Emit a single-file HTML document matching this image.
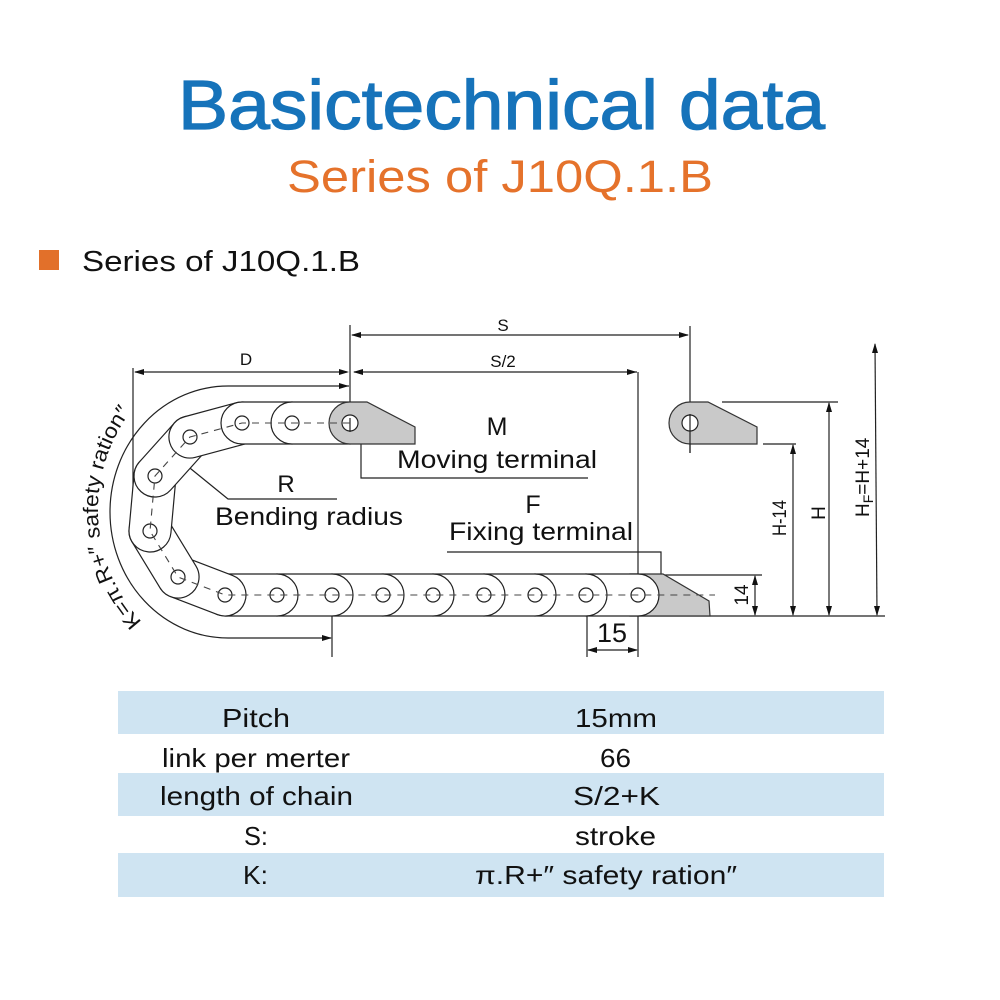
<!DOCTYPE html>
<html>
<head>
<meta charset="utf-8">
<style>
html,body{margin:0;padding:0;background:#fff;}
body{width:1000px;height:1000px;overflow:hidden;}
svg{display:block;}
</style>
</head>
<body>
<svg width="1000" height="1000" viewBox="0 0 1000 1000" xmlns="http://www.w3.org/2000/svg" font-family="'Liberation Sans', Arial, sans-serif">
<rect x="0" y="0" width="1000" height="1000" fill="#fff"/>

<!-- Titles -->
<text x="178" y="129" font-size="70" fill="#1673BA" stroke="#1673BA" stroke-width="1.2" textLength="647" lengthAdjust="spacingAndGlyphs">Basictechnical data</text>
<text x="287" y="192" font-size="45" fill="#E5722B" textLength="426" lengthAdjust="spacingAndGlyphs">Series of J10Q.1.B</text>
<rect x="39" y="250" width="20" height="20" fill="#E2702A"/>
<text x="82" y="271" font-size="29" fill="#111" textLength="278" lengthAdjust="spacingAndGlyphs">Series of J10Q.1.B</text>

<!-- Diagram -->
<g stroke="#222" stroke-width="1.2" fill="none">
  <path d="M349,386 L228,386 A118,126 0 0 0 228,638 L331,638"/>
  <line x1="133" y1="368" x2="133" y2="532"/>
  <line x1="350" y1="325" x2="350" y2="432"/>
  <line x1="690" y1="326" x2="690" y2="453"/>
  <line x1="352" y1="335" x2="688" y2="335"/>
  <line x1="135" y1="372" x2="347" y2="372"/>
  <line x1="354" y1="372" x2="637" y2="372"/>
  <line x1="638" y1="372" x2="638" y2="657"/>
  <line x1="332" y1="578" x2="332" y2="657"/>
  <line x1="587" y1="580" x2="587" y2="657"/>
  <line x1="588" y1="650" x2="637" y2="650"/>
  <line x1="722" y1="402" x2="838" y2="402"/>
  <line x1="763" y1="444" x2="796" y2="444"/>
  <line x1="638" y1="575" x2="762" y2="575"/>
  <line x1="638" y1="616" x2="885" y2="616"/>
  <line x1="755" y1="576" x2="755" y2="615"/>
  <line x1="793" y1="445" x2="793" y2="615"/>
  <line x1="829" y1="403" x2="829" y2="615"/>
  <line x1="875" y1="344" x2="877" y2="615"/>
  <polyline points="361,433 361,478 588,478"/>
  <polyline points="180,460 228,499 337,499"/>
  <polyline points="447,552 661,552 661,580"/>
</g>

<g fill="#111">
  <polygon points="351,335 361,332 361,338"/>
  <polygon points="689,335 679,332 679,338"/>
  <polygon points="134,372 144,369 144,375"/>
  <polygon points="349,372 339,369 339,375"/>
  <polygon points="353,372 363,369 363,375"/>
  <polygon points="637,372 627,369 627,375"/>
  <polygon points="349,386 339,383 339,389"/>
  <polygon points="332,638 322,635 322,641"/>
  <polygon points="587,650 597,647 597,653"/>
  <polygon points="638,650 628,647 628,653"/>
  <polygon points="755,575 752,585 758,585"/>
  <polygon points="755,616 752,606 758,606"/>
  <polygon points="793,444 790,454 796,454"/>
  <polygon points="793,616 790,606 796,606"/>
  <polygon points="829,402 826,412 832,412"/>
  <polygon points="829,616 826,606 832,606"/>
  <polygon points="875,343 872,353 878,353"/>
  <polygon points="877,616 874,606 880,606"/>
  <polygon points="176,456 185.6,460.1 181.8,464.7"/>
</g>

<path d="M630,574 L663,574 L709,601 L710,616 L630,616 Z" fill="#C9C9C9" stroke="#333" stroke-width="1.2"/>

<g fill="#fff" stroke="#222" stroke-width="1.2">
  <rect x="565" y="574" width="94" height="42" rx="21"/>
  <rect x="514" y="574" width="93" height="42" rx="21"/>
  <rect x="463" y="574" width="93" height="42" rx="21"/>
  <rect x="412" y="574" width="93" height="42" rx="21"/>
  <rect x="362" y="574" width="92" height="42" rx="21"/>
  <rect x="311" y="574" width="93" height="42" rx="21"/>
  <rect x="256" y="574" width="97" height="42" rx="21"/>
  <rect x="204" y="574" width="94" height="42" rx="21"/>
  <rect x="-21" y="-21" width="92.3" height="42" rx="21" transform="translate(178,577) rotate(20.96)"/>
  <rect x="-21" y="-21" width="95.9" height="42" rx="21" transform="translate(150,531) rotate(58.67)"/>
  <rect x="-21" y="-21" width="97.2" height="42" rx="21" transform="translate(155,476) rotate(95.19)"/>
  <rect x="-21" y="-21" width="94.4" height="42" rx="21" transform="translate(190,437) rotate(131.91)"/>
  <rect x="-21" y="-21" width="95.9" height="42" rx="21" transform="translate(242,423) rotate(164.93)"/>
  <rect x="221" y="402" width="92" height="42" rx="21"/>
  <rect x="271" y="402" width="100" height="42" rx="21"/>
</g>

<path d="M350,402 L367,402 L415,427 L415,444 L350,444 A21,21 0 0 1 350,402 Z" fill="#C9C9C9" stroke="#333" stroke-width="1.2"/>
<path d="M690,402 L708,402 L757,427 L757,444 L690,444 A21,21 0 0 1 690,402 Z" fill="#C9C9C9" stroke="#333" stroke-width="1.2"/>

<g fill="#fff" stroke="#222" stroke-width="1.2">
  <circle cx="350" cy="423" r="8"/>
  <circle cx="690" cy="423" r="8"/>
  <circle cx="292" cy="423" r="7"/>
  <circle cx="242" cy="423" r="7"/>
  <circle cx="190" cy="437" r="7"/>
  <circle cx="155" cy="476" r="7"/>
  <circle cx="150" cy="531" r="7"/>
  <circle cx="178" cy="577" r="7"/>
  <circle cx="225" cy="595" r="7"/>
  <circle cx="277" cy="595" r="7"/>
  <circle cx="332" cy="595" r="7"/>
  <circle cx="383" cy="595" r="7"/>
  <circle cx="433" cy="595" r="7"/>
  <circle cx="484" cy="595" r="7"/>
  <circle cx="535" cy="595" r="7"/>
  <circle cx="586" cy="595" r="7"/>
  <circle cx="638" cy="595" r="7"/>
</g>
<line x1="350" y1="418" x2="350" y2="432" stroke="#222" stroke-width="1.2"/>
<line x1="690" y1="414" x2="690" y2="453" stroke="#222" stroke-width="1.2"/>

<polyline points="350,423 292,423 242,423 190,437 155,476 150,531 178,577 225,595 277,595 332,595 383,595 433,595 484,595 535,595 586,595 638,595 715,595" fill="none" stroke="#444" stroke-width="1.1" stroke-dasharray="7,6"/>

<path id="karc" d="M142,621.8 A164,164 0 0 1 134.5,406.8" fill="none"/>
<text font-size="21" fill="#111"><textPath href="#karc" textLength="228" lengthAdjust="spacingAndGlyphs">K=π.R+″ safety ration″</textPath></text>

<g fill="#111">
  <text x="503" y="331" font-size="17" text-anchor="middle">S</text>
  <text x="503" y="367" font-size="17" text-anchor="middle">S/2</text>
  <text x="246" y="365" font-size="17" text-anchor="middle">D</text>
  <text x="497" y="435" font-size="25" text-anchor="middle">M</text>
  <text x="397" y="468" font-size="25" textLength="200" lengthAdjust="spacingAndGlyphs">Moving terminal</text>
  <text x="286" y="492" font-size="24" text-anchor="middle">R</text>
  <text x="215" y="525" font-size="25" textLength="188" lengthAdjust="spacingAndGlyphs">Bending radius</text>
  <text x="533" y="513" font-size="25" text-anchor="middle">F</text>
  <text x="449" y="540" font-size="25" textLength="184" lengthAdjust="spacingAndGlyphs">Fixing terminal</text>
  <text x="597" y="642" font-size="27" textLength="30" lengthAdjust="spacingAndGlyphs">15</text>
  <text transform="translate(741,595) rotate(-90)" x="0" y="7" font-size="19" text-anchor="middle">14</text>
  <text transform="translate(779,518) rotate(-90)" x="0" y="7" font-size="19" text-anchor="middle" textLength="36" lengthAdjust="spacingAndGlyphs">H-14</text>
  <text transform="translate(818,513) rotate(-90)" x="0" y="7" font-size="19" text-anchor="middle">H</text>
  <text transform="translate(862,481) rotate(-90)" x="-36" y="7" font-size="19">H<tspan font-size="14" dy="4">F</tspan><tspan dy="-4">=H+14</tspan></text>
</g>

<rect x="118" y="691" width="766" height="43" fill="#CFE4F2"/>
<rect x="118" y="773" width="766" height="43" fill="#CFE4F2"/>
<rect x="118" y="853" width="766" height="44" fill="#CFE4F2"/>
<g fill="#111" font-size="26">
  <text x="222" y="727" textLength="68" lengthAdjust="spacingAndGlyphs">Pitch</text>
  <text x="575" y="727" textLength="82" lengthAdjust="spacingAndGlyphs">15mm</text>
  <text x="162" y="767" textLength="188" lengthAdjust="spacingAndGlyphs">link per merter</text>
  <text x="600" y="767" textLength="31" lengthAdjust="spacingAndGlyphs">66</text>
  <text x="160" y="805" textLength="193" lengthAdjust="spacingAndGlyphs">length of chain</text>
  <text x="573" y="805" textLength="87" lengthAdjust="spacingAndGlyphs">S/2+K</text>
  <text x="244" y="845" textLength="24" lengthAdjust="spacingAndGlyphs">S:</text>
  <text x="575" y="845" textLength="81" lengthAdjust="spacingAndGlyphs">stroke</text>
  <text x="243" y="884" textLength="25" lengthAdjust="spacingAndGlyphs">K:</text>
  <text x="475" y="884" textLength="262" lengthAdjust="spacingAndGlyphs">π.R+″ safety ration″</text>
</g>
</svg>
</body>
</html>
